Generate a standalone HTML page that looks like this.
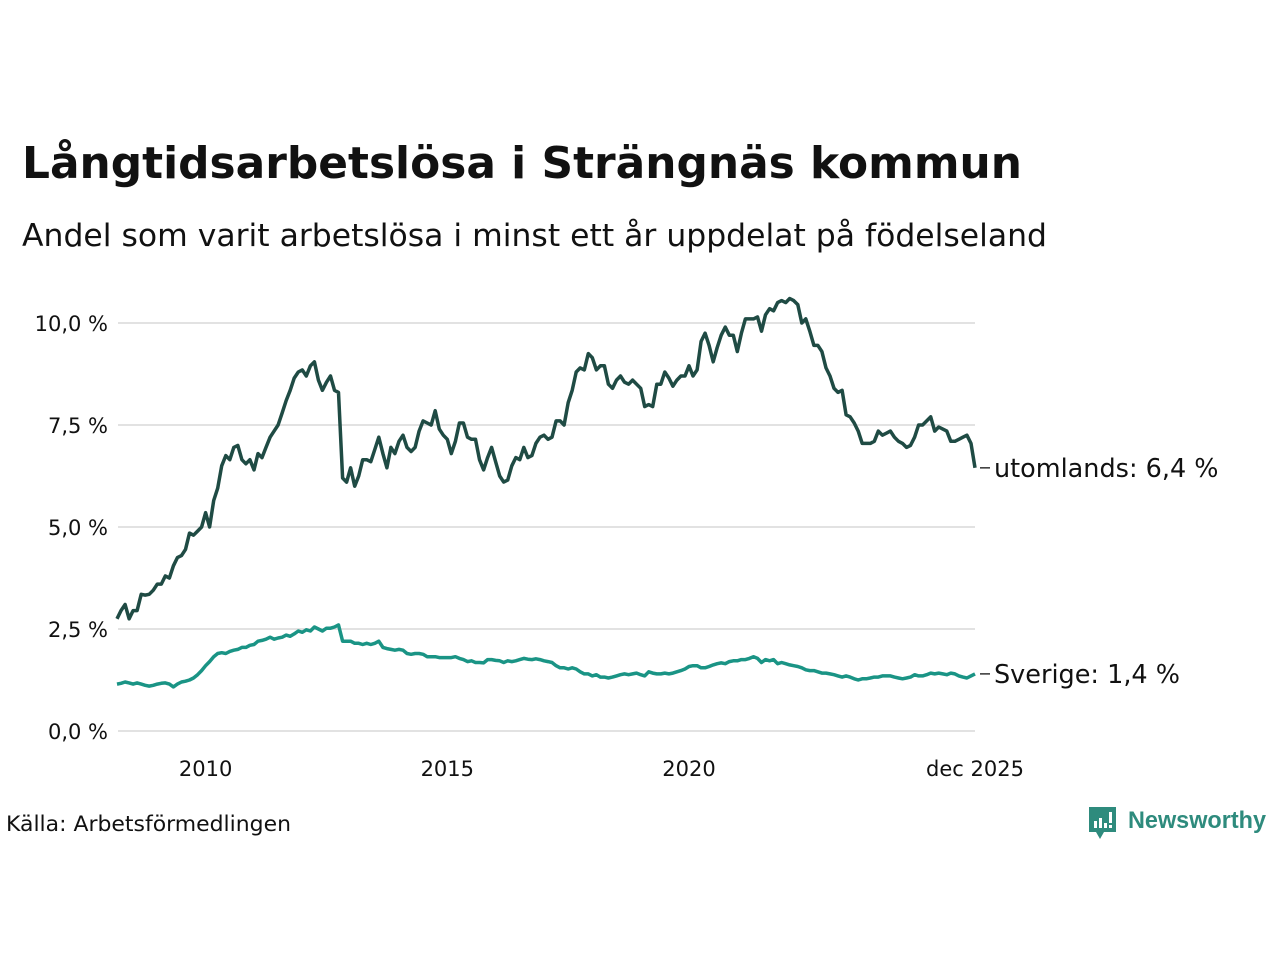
<!DOCTYPE html>
<html><head><meta charset="utf-8"><style>
body{margin:0;background:#fff;width:1280px;height:960px;overflow:hidden;font-family:"Liberation Sans","DejaVu Sans",sans-serif;}
</style></head><body>
<svg id="chart" width="1280" height="960" xmlns="http://www.w3.org/2000/svg" style="font-family:'DejaVu Sans','Liberation Sans',sans-serif">
<text x="22" y="178" font-size="44" font-weight="bold" fill="#111" textLength="1000" lengthAdjust="spacingAndGlyphs">Långtidsarbetslösa i Strängnäs kommun</text>
<text x="22" y="246" font-size="31.5" fill="#111" textLength="1025" lengthAdjust="spacingAndGlyphs">Andel som varit arbetslösa i minst ett år uppdelat på födelseland</text>
<g id="grid"></g><g id="lines"></g>
<text x="6" y="831" font-size="21" fill="#111" textLength="285" lengthAdjust="spacingAndGlyphs">Källa: Arbetsförmedlingen</text>
<g>
<path d="M1089 807 h27 v25 h-12 l-4 7 l-4 -7 h-7 z" fill="#2e8b7d"/>
<rect x="1094" y="821" width="3" height="7" fill="#fff"/><rect x="1099" y="818" width="3" height="10" fill="#fff"/><rect x="1104" y="823" width="3" height="5" fill="#fff"/><rect x="1109" y="812" width="3" height="11" fill="#fff"/><rect x="1109" y="825" width="3" height="3" fill="#fff"/>
<text x="1128" y="828" font-size="24" fill="#2e8b7d" font-family="'Liberation Sans',sans-serif" font-weight="bold" textLength="138" lengthAdjust="spacingAndGlyphs">Newsworthy</text>
</g>
</svg>
<script>
const utomlands=[2.75,2.95,3.1,2.75,2.95,2.95,3.35,3.33,3.35,3.45,3.6,3.6,
3.8,3.75,4.05,4.25,4.3,4.45,4.85,4.8,4.9,5.0,5.35,5.0,
5.65,5.95,6.5,6.75,6.65,6.95,7.0,6.65,6.55,6.65,6.4,6.8,
6.7,6.95,7.2,7.35,7.5,7.8,8.1,8.35,8.65,8.8,8.85,8.7,
8.95,9.05,8.6,8.35,8.55,8.7,8.35,8.3,6.2,6.1,6.45,6.0,
6.25,6.65,6.65,6.6,6.9,7.2,6.8,6.45,6.95,6.8,7.1,7.25,
6.95,6.85,6.95,7.35,7.6,7.55,7.5,7.85,7.4,7.25,7.15,6.8,
7.1,7.55,7.55,7.2,7.15,7.15,6.65,6.4,6.7,6.95,6.6,6.25,
6.1,6.15,6.5,6.7,6.65,6.95,6.7,6.75,7.05,7.2,7.25,7.15,
7.2,7.6,7.6,7.5,8.05,8.35,8.8,8.9,8.85,9.25,9.15,8.85,
8.95,8.95,8.5,8.4,8.6,8.7,8.55,8.5,8.6,8.5,8.4,7.95,
8.0,7.95,8.5,8.5,8.8,8.65,8.45,8.6,8.7,8.7,8.95,8.7,
8.85,9.55,9.75,9.45,9.05,9.4,9.7,9.9,9.7,9.7,9.3,9.75,
10.1,10.1,10.1,10.15,9.8,10.2,10.35,10.3,10.5,10.55,10.5,10.6,
10.55,10.45,10.0,10.1,9.8,9.45,9.45,9.3,8.9,8.7,8.4,8.3,
8.35,7.75,7.7,7.55,7.35,7.05,7.05,7.05,7.1,7.35,7.25,7.3,
7.35,7.2,7.1,7.05,6.95,7.0,7.2,7.5,7.5,7.6,7.7,7.35,
7.45,7.4,7.35,7.1,7.1,7.15,7.2,7.25,7.05,6.45];
const sverige=[1.15,1.17,1.2,1.18,1.15,1.18,1.15,1.12,1.1,1.12,1.15,1.17,
1.18,1.15,1.08,1.15,1.2,1.22,1.25,1.3,1.38,1.48,1.6,1.7,
1.82,1.9,1.92,1.9,1.95,1.98,2.0,2.05,2.05,2.1,2.12,2.2,
2.22,2.25,2.3,2.25,2.28,2.3,2.35,2.32,2.38,2.45,2.42,2.48,
2.45,2.55,2.5,2.45,2.52,2.52,2.55,2.6,2.2,2.2,2.2,2.15,
2.15,2.12,2.15,2.12,2.15,2.2,2.05,2.02,2.0,1.98,2.0,1.98,
1.9,1.88,1.9,1.9,1.88,1.82,1.82,1.82,1.8,1.8,1.8,1.8,
1.82,1.78,1.75,1.7,1.72,1.68,1.68,1.67,1.75,1.75,1.73,1.72,
1.68,1.72,1.7,1.72,1.75,1.78,1.76,1.75,1.77,1.75,1.72,1.7,
1.68,1.6,1.55,1.55,1.52,1.55,1.52,1.45,1.4,1.4,1.35,1.38,
1.32,1.32,1.3,1.32,1.35,1.38,1.4,1.38,1.4,1.42,1.38,1.35,
1.45,1.42,1.4,1.4,1.42,1.4,1.42,1.45,1.48,1.52,1.58,1.6,
1.6,1.55,1.55,1.58,1.62,1.65,1.67,1.65,1.7,1.72,1.72,1.75,
1.75,1.78,1.82,1.78,1.68,1.75,1.72,1.75,1.65,1.68,1.65,1.62,
1.6,1.58,1.55,1.5,1.48,1.48,1.45,1.42,1.42,1.4,1.38,1.35,
1.32,1.35,1.32,1.28,1.25,1.28,1.28,1.3,1.32,1.32,1.35,1.35,
1.35,1.32,1.3,1.28,1.3,1.32,1.38,1.35,1.35,1.38,1.42,1.4,
1.42,1.4,1.38,1.42,1.4,1.35,1.32,1.3,1.35,1.4];
const yTicks=[0,2.5,5,7.5,10];
const yTickLabels=["0,0 %","2,5 %","5,0 %","7,5 %","10,0 %"];
const xTicks=[2010,2015,2020,2025.917];
const xTickLabels=["2010","2015","2020","dec 2025"];
const seriesLabels=["utomlands: 6,4 %","Sverige: 1,4 %"];

const NS="http://www.w3.org/2000/svg";
const endT=2025.917;
const x=t=>117+(t-(endT-17.75))*(975-117)/17.75;
const y=v=>731-v*40.8;
const grid=document.getElementById('grid'), lines=document.getElementById('lines');
function mk(tag,attrs,parent){const e=document.createElementNS(NS,tag);for(const k in attrs)e.setAttribute(k,attrs[k]);parent.appendChild(e);return e;}
yTicks.forEach((v,i)=>{
  const l=mk('line',{x1:118,x2:975,y1:y(v),y2:y(v),stroke:'#e2e2e2','stroke-width':2},grid);
  
  
  const t=mk('text',{x:108,y:y(v)+8,'font-size':21,'text-anchor':'end',fill:'#111'},grid);
  
  
  t.textContent=yTickLabels[i];
});
xTicks.forEach((v,i)=>{
  const t=mk('text',{x:x(v),y:776,'font-size':21,'text-anchor':'middle',fill:'#111'},grid);
  
  
  t.textContent=xTickLabels[i];
});
function draw(vals,color,name,label){
  const n=vals.length;
  const pts=vals.map((v,i)=>x(endT-(n-1-i)/12).toFixed(1)+','+y(v).toFixed(1)).join(' ');
  const p=mk('polyline',{points:pts,fill:'none',stroke:color,'stroke-width':3.5,'stroke-linejoin':'round'},lines);
  
  
  const ly=y(vals[n-1]);
  const tk=mk('line',{x1:980,x2:990,y1:ly,y2:ly,stroke:'#333','stroke-width':1.5},lines);
  
  
  const t=mk('text',{x:994,y:ly+9,'font-size':25.5,fill:'#111'},lines);
  
  
  t.textContent=label;
}
draw(sverige,'#1a9485','line-sverige',seriesLabels[1]);
draw(utomlands,'#1f4b44','line-utomlands',seriesLabels[0]);
</script>
</body></html>
